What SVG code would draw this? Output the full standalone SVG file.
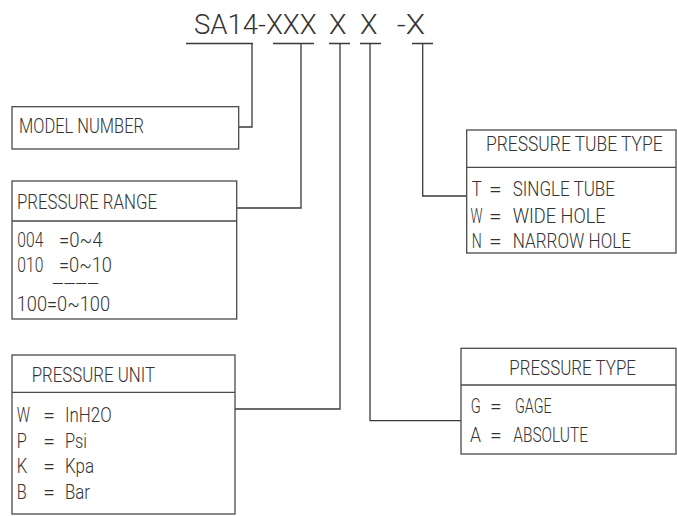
<svg xmlns="http://www.w3.org/2000/svg" width="677" height="516" viewBox="0 0 677 516">
<style>
.bg{fill:#fff}
.box{fill:none;stroke:#4a4a4a;stroke-width:1.3}
.ln{fill:none;stroke:#3a3a3a;stroke-width:1.3}
text{font-family:Roboto,"Liberation Sans Narrow","DejaVu Sans Condensed",sans-serif;font-weight:300;fill:#333;font-size:21px;}
.t{font-size:28px}
.d{font-size:13px;font-weight:400}
.s{font-size:20px}
</style>
<rect class="bg" x="0" y="0" width="677" height="516"/>
<g id="title">
<text class="t" x="194" y="33.5" textLength="122.5" lengthAdjust="spacingAndGlyphs">SA14-XXX</text>
<text class="t" x="329" y="33.5" textLength="17.5" lengthAdjust="spacingAndGlyphs">X</text>
<text class="t" x="360" y="33.5" textLength="17.5" lengthAdjust="spacingAndGlyphs">X</text>
<text class="t" x="396.7" y="33.5" textLength="28.3" lengthAdjust="spacingAndGlyphs">-X</text>
</g>
<g id="connectors">
<path class="ln" d="M186 43.5H253M273 43.5H314M329 43.5H350M360 43.5H381M412 43.5H433"/>
<polyline class="ln" points="239,127 252,127 252,43.5"/>
<polyline class="ln" points="237,208 301,208 301,43.5"/>
<polyline class="ln" points="235,409 340,409 340,43.5"/>
<polyline class="ln" points="370,43.5 370,420.7 461,420.7"/>
<polyline class="ln" points="422.7,43.5 422.7,196 466.7,196"/>
</g>
<g id="model-number">
<rect class="box" x="12" y="106.7" width="226.7" height="42.3"/>
<text x="19" y="133" textLength="125" lengthAdjust="spacingAndGlyphs">MODEL NUMBER</text>
</g>
<g id="pressure-range">
<rect class="box" x="12" y="181" width="224.7" height="138"/>
<line class="box" x1="12" y1="221" x2="236.7" y2="221"/>
<text x="17" y="209.3" textLength="140" lengthAdjust="spacingAndGlyphs">PRESSURE RANGE</text>
<text x="17.3" y="246.7" textLength="26" lengthAdjust="spacingAndGlyphs">004</text>
<text x="59" y="246.7" textLength="43.7" lengthAdjust="spacingAndGlyphs">=0~4</text>
<text x="17.3" y="271.7" textLength="26" lengthAdjust="spacingAndGlyphs">010</text>
<text x="59" y="271.7" textLength="53" lengthAdjust="spacingAndGlyphs">=0~10</text>
<text class="d" x="52" y="287" textLength="47" lengthAdjust="spacingAndGlyphs">----</text>
<text x="16.7" y="310.7" textLength="93.3" lengthAdjust="spacingAndGlyphs">100=0~100</text>
</g>
<g id="pressure-unit">
<rect class="box" x="12" y="355" width="223" height="159"/>
<line class="box" x1="12" y1="392.3" x2="235" y2="392.3"/>
<text x="31.7" y="381.7" textLength="123.3" lengthAdjust="spacingAndGlyphs">PRESSURE UNIT</text>
<text x="16.7" y="421.7" textLength="13.3" lengthAdjust="spacingAndGlyphs">W</text>
<text x="43.3" y="421.7" textLength="11.7" lengthAdjust="spacingAndGlyphs">=</text>
<text x="65" y="421.7" textLength="46.7" lengthAdjust="spacingAndGlyphs">InH2O</text>
<text x="16.7" y="448.3" textLength="10" lengthAdjust="spacingAndGlyphs">P</text>
<text x="43.3" y="448.3" textLength="11.7" lengthAdjust="spacingAndGlyphs">=</text>
<text x="65" y="448.3" textLength="22" lengthAdjust="spacingAndGlyphs">Psi</text>
<text x="16.7" y="473.3" textLength="10.5" lengthAdjust="spacingAndGlyphs">K</text>
<text x="43.3" y="473.3" textLength="11.7" lengthAdjust="spacingAndGlyphs">=</text>
<text x="65" y="473.3" textLength="29" lengthAdjust="spacingAndGlyphs">Kpa</text>
<text x="16.7" y="499.3" textLength="10" lengthAdjust="spacingAndGlyphs">B</text>
<text x="43.3" y="499.3" textLength="11.7" lengthAdjust="spacingAndGlyphs">=</text>
<text x="65" y="499.3" textLength="25" lengthAdjust="spacingAndGlyphs">Bar</text>
</g>
<g id="pressure-tube-type">
<rect class="box" x="466.7" y="130" width="209.3" height="123"/>
<line class="box" x1="466.7" y1="167.3" x2="676" y2="167.3"/>
<text class="s" x="486" y="151" textLength="176.7" lengthAdjust="spacingAndGlyphs">PRESSURE TUBE TYPE</text>
<text x="471.7" y="196" textLength="10" lengthAdjust="spacingAndGlyphs">T</text>
<text x="489" y="196" textLength="12.7" lengthAdjust="spacingAndGlyphs">=</text>
<text x="512.7" y="196" textLength="102.3" lengthAdjust="spacingAndGlyphs">SINGLE TUBE</text>
<text x="470.5" y="222.7" textLength="12" lengthAdjust="spacingAndGlyphs">W</text>
<text x="489" y="222.7" textLength="12.7" lengthAdjust="spacingAndGlyphs">=</text>
<text x="512.7" y="222.7" textLength="93" lengthAdjust="spacingAndGlyphs">WIDE HOLE</text>
<text x="471.7" y="248.3" textLength="10" lengthAdjust="spacingAndGlyphs">N</text>
<text x="489" y="248.3" textLength="12.7" lengthAdjust="spacingAndGlyphs">=</text>
<text x="512.7" y="248.3" textLength="118.3" lengthAdjust="spacingAndGlyphs">NARROW HOLE</text>
</g>
<g id="pressure-type">
<rect class="box" x="461" y="348.3" width="215" height="105.7"/>
<line class="box" x1="461" y1="385" x2="676" y2="385"/>
<text x="509.3" y="375" textLength="126.7" lengthAdjust="spacingAndGlyphs">PRESSURE TYPE</text>
<text x="470.7" y="413.3" textLength="10" lengthAdjust="spacingAndGlyphs">G</text>
<text x="490" y="413.3" textLength="11.7" lengthAdjust="spacingAndGlyphs">=</text>
<text x="515" y="413.3" textLength="36.7" lengthAdjust="spacingAndGlyphs">GAGE</text>
<text x="470" y="441.7" textLength="11" lengthAdjust="spacingAndGlyphs">A</text>
<text x="490" y="441.7" textLength="11.7" lengthAdjust="spacingAndGlyphs">=</text>
<text x="513.3" y="441.7" textLength="74.7" lengthAdjust="spacingAndGlyphs">ABSOLUTE</text>
</g>
</svg>
